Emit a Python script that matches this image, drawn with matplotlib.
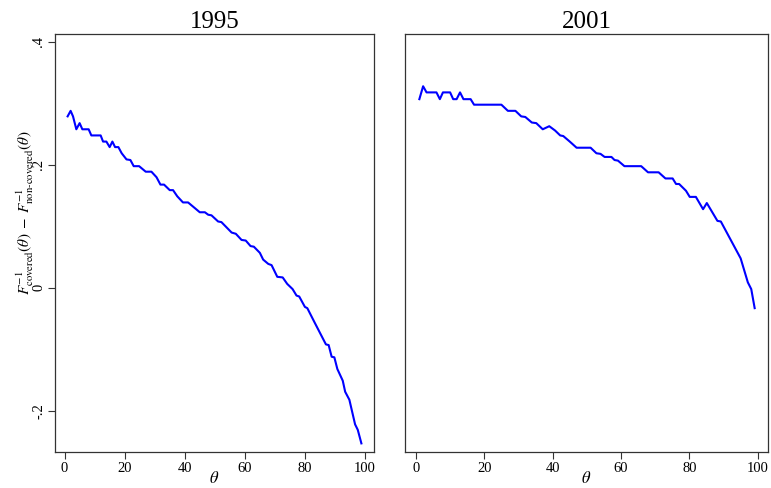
import matplotlib
matplotlib.use("Agg")
import matplotlib.pyplot as plt

# ---------- DATA ----------
panel_titles = ["1995", "2001"]

theta_1995 = [1, 2, 2.8, 3.9, 5, 5.9, 8, 8.9, 12, 12.8, 13.9, 15, 15.9, 16.8, 17.9, 19,
              20.6, 21.9, 23, 24.8, 27, 28.9, 30.6, 31.9, 33.1, 35, 36.1, 37.5, 39.4, 41.1,
              43.3, 45, 46.7, 47.8, 48.9, 51.1, 52.2, 55.6, 57, 58.9, 60.3, 61.9, 63, 65,
              66.1, 67.8, 68.9, 70.8, 72.6, 74.1, 75.9, 77.2, 78.1, 80, 80.8, 83.3, 87,
              87.9, 88.9, 89.8, 90.8, 92.6, 93.4, 94.8, 96.7, 97.6, 98.8]
gap_1995 = [0.279, 0.288, 0.279, 0.258, 0.268, 0.258, 0.258, 0.248, 0.248, 0.238, 0.238,
            0.229, 0.238, 0.229, 0.229, 0.219, 0.209, 0.208, 0.198, 0.198, 0.189, 0.189,
            0.18, 0.168, 0.168, 0.159, 0.159, 0.149, 0.139, 0.139, 0.13, 0.123, 0.123,
            0.119, 0.118, 0.108, 0.107, 0.09, 0.088, 0.078, 0.077, 0.068, 0.067, 0.057,
            0.046, 0.039, 0.037, 0.018, 0.017, 0.0065, -0.002, -0.0125, -0.014, -0.031,
            -0.033, -0.057, -0.092, -0.093, -0.112, -0.113, -0.132, -0.151, -0.169,
            -0.182, -0.222, -0.231, -0.253]

theta_2001 = [1, 2.1, 3.1, 6, 7, 7.9, 10, 10.9, 11.9, 12.9, 13.9, 16, 17, 25, 26.9, 29.1,
              30.8, 32, 33.9, 35.2, 37.1, 39, 40.7, 42.2, 43.1, 45, 47, 51.1, 52.8, 54,
              55.2, 57.2, 58.1, 59.1, 61, 65.9, 67.9, 71, 73, 75.1, 76.1, 77, 79, 80.1,
              81.9, 84, 85.1, 88.2, 89.2, 95, 97.1, 98.1, 99.1]
gap_2001 = [0.307, 0.328, 0.318, 0.318, 0.307, 0.318, 0.318, 0.307, 0.307, 0.318, 0.307,
            0.307, 0.298, 0.298, 0.288, 0.288, 0.279, 0.278, 0.269, 0.268, 0.258, 0.263,
            0.256, 0.248, 0.247, 0.238, 0.228, 0.228, 0.219, 0.218, 0.213, 0.213, 0.208,
            0.207, 0.198, 0.198, 0.188, 0.188, 0.178, 0.178, 0.169, 0.169, 0.158, 0.148,
            0.148, 0.128, 0.138, 0.109, 0.108, 0.048, 0.009, -0.002, -0.033]

x_ticks = [0, 20, 40, 60, 80, 100]
y_ticks = [-0.2, 0, 0.2, 0.4]
y_ticklabels = ["-.2", "0", ".2", ".4"]
# ---------------------------------------------------

plt.rcParams["font.family"] = ["Liberation Serif", "DejaVu Serif"]
plt.rcParams["mathtext.fontset"] = "stix"

W, H = 771, 488
fig = plt.figure(figsize=(W / 100, H / 100), dpi=100)
fig.patch.set_facecolor("white")

ax1 = fig.add_axes([55 / W, 36 / H, (374 - 55) / W, (452 - 34) / H])
ax2 = fig.add_axes([405 / W, 36 / H, (768 - 405) / W, (452 - 34) / H])

series = [(theta_1995, gap_1995), (theta_2001, gap_2001)]
for ax, title, (tx, gy) in zip([ax1, ax2], panel_titles, series):
    ax.plot(tx, gy, color="#0000ff", lw=1.5)
    ax.set_xlim(-3.2, 103)
    ax.set_ylim(-0.267, 0.413)
    ax.set_xticks(x_ticks)
    ax.set_xticklabels([str(t) for t in x_ticks], fontsize=10.5)
    ax.tick_params(axis="x", length=5, width=0.8, color="#333333", pad=2)
    ax.set_xlabel(r"$\theta$", fontsize=12, labelpad=-3)
    ax.set_title(title, fontsize=18, pad=4)
    for s in ax.spines.values():
        s.set_linewidth(0.9)
        s.set_color("#333333")

ax1.set_yticks(y_ticks)
ax1.set_yticklabels(y_ticklabels, fontsize=10.5, rotation=90, va="center")
ax1.tick_params(axis="y", length=5, width=0.8, color="#333333", pad=2)
ax2.set_yticks([])

fig.text(25 / W, 1 - 213 / H,
         r"$F^{-1}_{\mathrm{covered}}(\theta)\;-\;F^{-1}_{\mathrm{non\text{-}covered}}(\theta)$",
         rotation=90, ha="center", va="center", fontsize=11)

fig.savefig("out.png", dpi=100)
